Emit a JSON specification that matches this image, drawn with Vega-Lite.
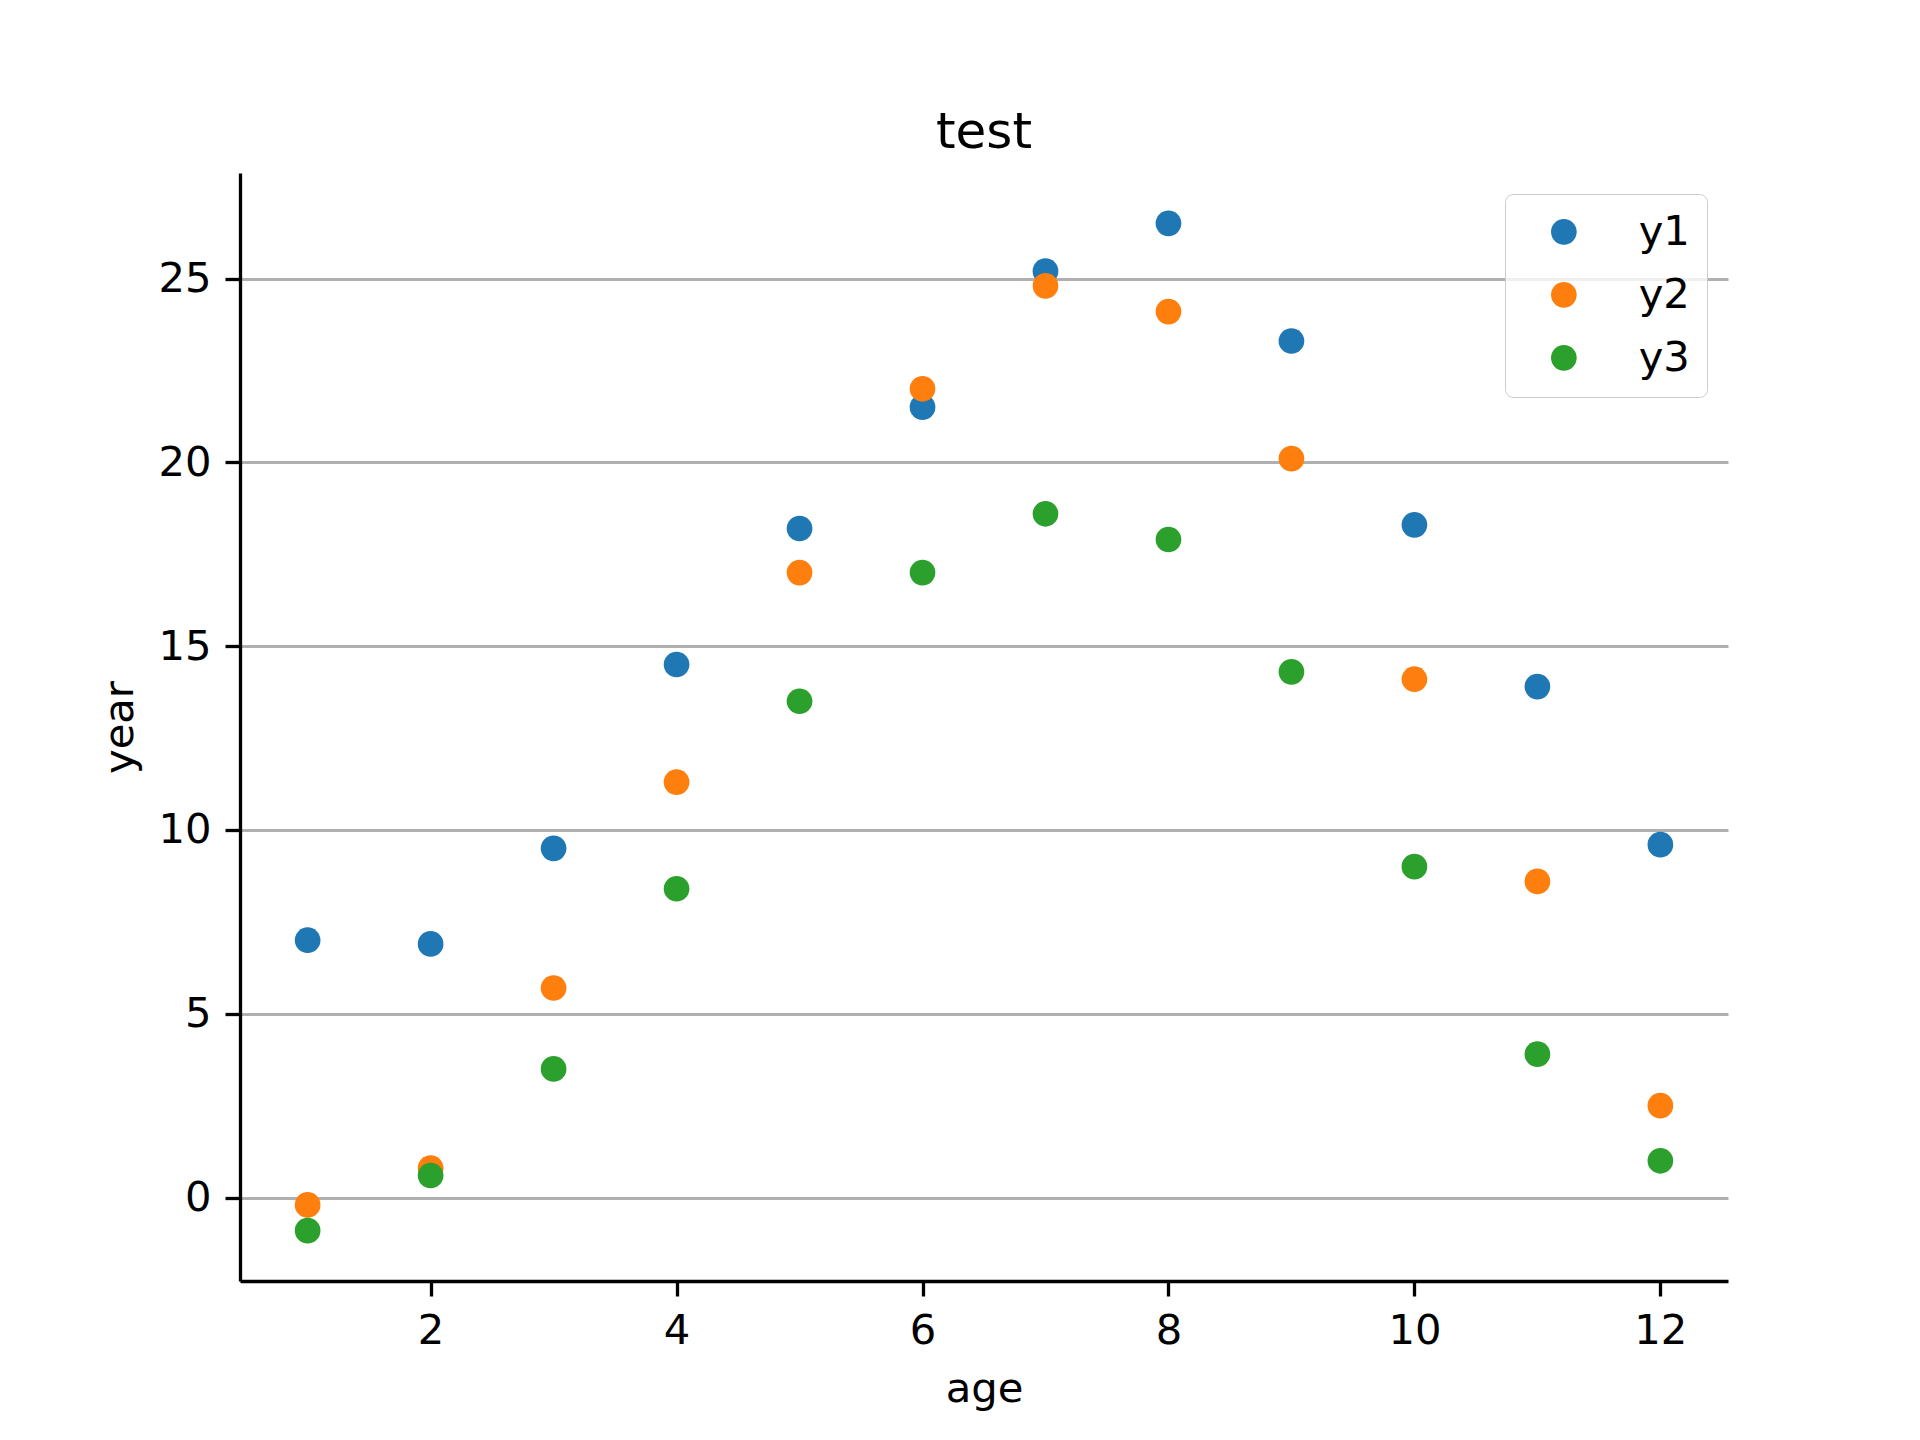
{
  "$schema": "https://vega.github.io/schema/vega-lite/v6.json",
  "width": 1488,
  "height": 1108,
  "autosize": {"type": "none"},
  "padding": {"left": 240, "top": 173, "right": 192, "bottom": 159},
  "background": "white",
  "title": {"text": "test", "fontSize": 50, "font": "DejaVu Sans", "fontWeight": "normal", "color": "black", "offset": -25, "baseline": "alphabetic", "anchor": "middle"},
  "config": {"view": {"stroke": null}, "font": "DejaVu Sans"},
  "data": {"values": [
    {"age": 1, "value": 7.0, "series": "y1"},
    {"age": 2, "value": 6.9, "series": "y1"},
    {"age": 3, "value": 9.5, "series": "y1"},
    {"age": 4, "value": 14.5, "series": "y1"},
    {"age": 5, "value": 18.2, "series": "y1"},
    {"age": 6, "value": 21.5, "series": "y1"},
    {"age": 7, "value": 25.2, "series": "y1"},
    {"age": 8, "value": 26.5, "series": "y1"},
    {"age": 9, "value": 23.3, "series": "y1"},
    {"age": 10, "value": 18.3, "series": "y1"},
    {"age": 11, "value": 13.9, "series": "y1"},
    {"age": 12, "value": 9.6, "series": "y1"},
    {"age": 1, "value": -0.2, "series": "y2"},
    {"age": 2, "value": 0.8, "series": "y2"},
    {"age": 3, "value": 5.7, "series": "y2"},
    {"age": 4, "value": 11.3, "series": "y2"},
    {"age": 5, "value": 17.0, "series": "y2"},
    {"age": 6, "value": 22.0, "series": "y2"},
    {"age": 7, "value": 24.8, "series": "y2"},
    {"age": 8, "value": 24.1, "series": "y2"},
    {"age": 9, "value": 20.1, "series": "y2"},
    {"age": 10, "value": 14.1, "series": "y2"},
    {"age": 11, "value": 8.6, "series": "y2"},
    {"age": 12, "value": 2.5, "series": "y2"},
    {"age": 1, "value": -0.9, "series": "y3"},
    {"age": 2, "value": 0.6, "series": "y3"},
    {"age": 3, "value": 3.5, "series": "y3"},
    {"age": 4, "value": 8.4, "series": "y3"},
    {"age": 5, "value": 13.5, "series": "y3"},
    {"age": 6, "value": 17.0, "series": "y3"},
    {"age": 7, "value": 18.6, "series": "y3"},
    {"age": 8, "value": 17.9, "series": "y3"},
    {"age": 9, "value": 14.3, "series": "y3"},
    {"age": 10, "value": 9.0, "series": "y3"},
    {"age": 11, "value": 3.9, "series": "y3"},
    {"age": 12, "value": 1.0, "series": "y3"}
  ]},
  "mark": {"type": "circle", "opacity": 1, "size": 660},
  "encoding": {
    "x": {
      "field": "age", "type": "quantitative",
      "scale": {"domain": [0.45, 12.55], "nice": false, "zero": false},
      "axis": {"title": "age", "values": [2, 4, 6, 8, 10, 12], "grid": false,
        "domainColor": "black", "domainWidth": 3.3, "tickColor": "black", "tickWidth": 3.3, "tickSize": 15,
        "labelFontSize": 41.7, "labelColor": "black", "labelPadding": 14, "labelFont": "DejaVu Sans",
        "titleFontSize": 41.7, "titleFontWeight": "normal", "titleColor": "black", "titlePadding": 17, "titleFont": "DejaVu Sans"}
    },
    "y": {
      "field": "value", "type": "quantitative",
      "scale": {"domain": [-2.27, 27.87], "nice": false, "zero": false},
      "axis": {"title": "year", "values": [0, 5, 10, 15, 20, 25], "grid": true, "gridColor": "#b0b0b0", "gridWidth": 3,
        "domainColor": "black", "domainWidth": 3.3, "tickColor": "black", "tickWidth": 3.3, "tickSize": 15,
        "labelFontSize": 41.7, "labelColor": "black", "labelPadding": 14, "labelFont": "DejaVu Sans",
        "titleFontSize": 41.7, "titleFontWeight": "normal", "titleColor": "black", "titlePadding": 16, "titleFont": "DejaVu Sans"}
    },
    "color": {
      "field": "series", "type": "nominal",
      "scale": {"domain": ["y1", "y2", "y3"], "range": ["#1f77b4", "#ff7f0e", "#2ca02c"]},
      "legend": {"orient": "none", "legendX": 1265, "legendY": 21, "title": null, "padding": 17,
        "labelFontSize": 41.7, "labelFont": "DejaVu Sans", "labelColor": "black",
        "symbolSize": 660, "symbolType": "circle", "symbolStrokeWidth": 0, "symbolOffset": 21, "labelOffset": 54, "rowPadding": 20,
        "strokeColor": "#cccccc", "cornerRadius": 8, "fillColor": "rgba(255,255,255,0.8)",
        "encode": {"legend": {"update": {"strokeWidth": {"value": 3.3}}}}}
    }
  }
}
